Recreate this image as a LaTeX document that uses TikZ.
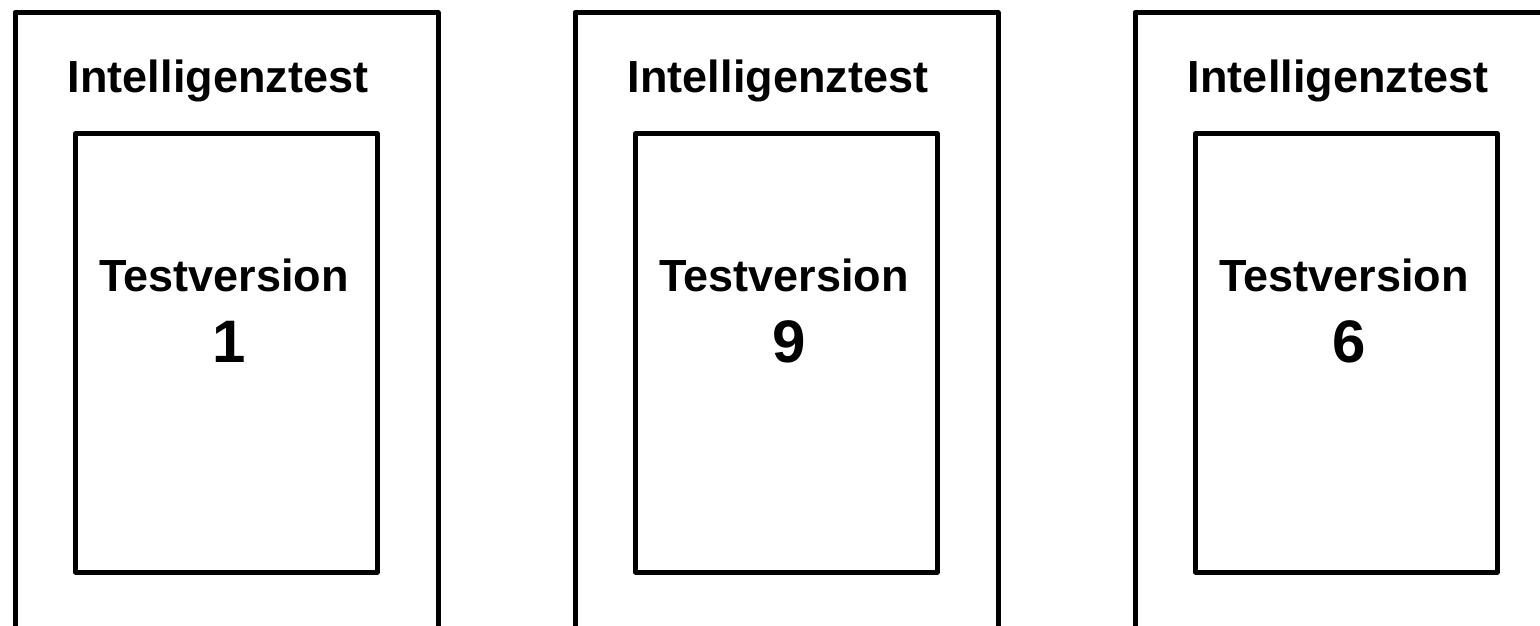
\documentclass[tikz,border=0pt]{standalone}
\usepackage{fontspec}
\setmainfont{Liberation Sans}
\begin{document}
\begin{tikzpicture}[x=1pt,y=-1pt,
  outerbox/.style={draw, line width=5pt, line join=round, minimum width=423pt, minimum height=700pt, anchor=north west, inner sep=0pt},
  innerbox/.style={draw, line width=5pt, line join=round, minimum width=301.5pt, minimum height=438.5pt, anchor=north west, inner sep=0pt},
  titletext/.style={font=\fontsize{45}{54}\selectfont\bfseries, anchor=base, inner sep=0pt},
  versiontext/.style={font=\fontsize{45}{54}\selectfont\bfseries, anchor=base, inner sep=0pt},
  numtext/.style={font=\fontsize{60}{72}\selectfont\bfseries, anchor=base, inner sep=0pt}]
\useasboundingbox (0,0) rectangle (1540,625);
\fill[white] (0,0) rectangle (1540,625);
\clip (0,0) rectangle (1540,625);
\foreach \i/\n in {0/1,1/9,2/6}{
  \node[outerbox] (outer\i) at (12.5+560*\i,10) {};
  \node[innerbox] (inner\i) at (73+560*\i,131) {};
  \node[titletext] (title\i) at (218+560*\i,92) {Intelligenztest};
  \node[versiontext] (version\i) at (224+560*\i,291) {Testversion};
  \node[numtext] (num\i) at (229+560*\i,362) {\n};
}
\end{tikzpicture}
\end{document}
